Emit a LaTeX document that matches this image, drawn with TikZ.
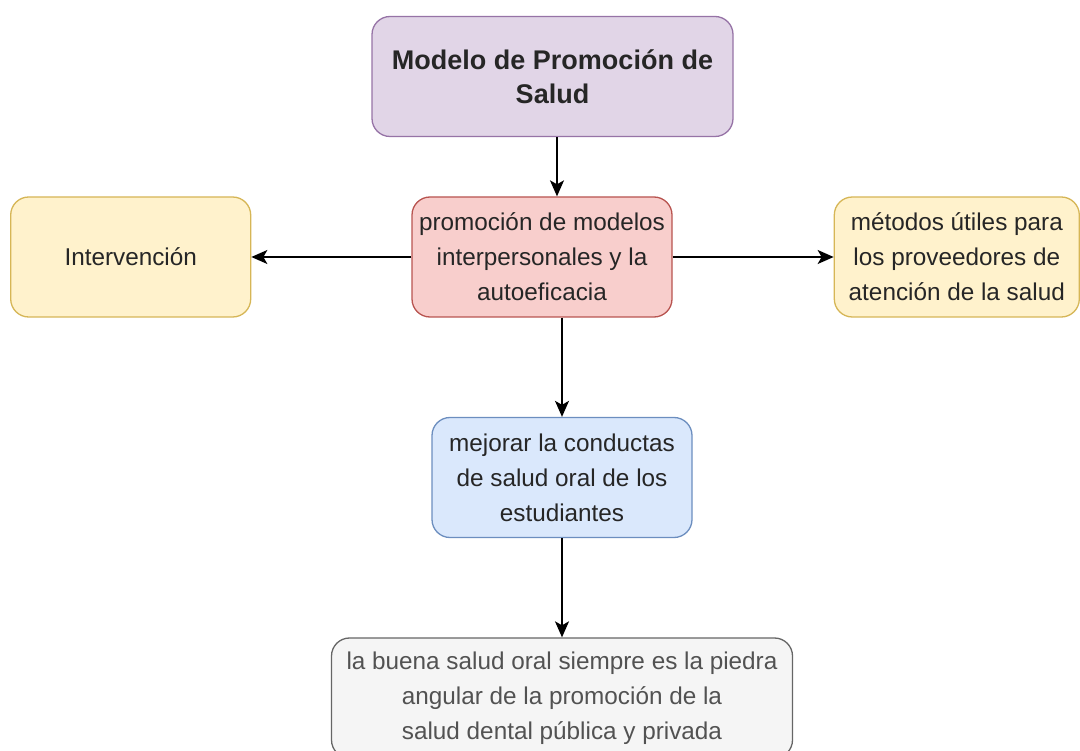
\documentclass[tikz,border=0pt]{standalone}
\usepackage{fontspec}
\setmainfont{Liberation Sans}
\usetikzlibrary{positioning,arrows.meta}
\definecolor{mypurple}{HTML}{E1D5E7}
\definecolor{mypurpled}{HTML}{9673A6}
\definecolor{myred}{HTML}{F8CECC}
\definecolor{myredd}{HTML}{B85450}
\definecolor{myyellow}{HTML}{FFF2CC}
\definecolor{myyellowd}{HTML}{D6B656}
\definecolor{myblue}{HTML}{DAE8FC}
\definecolor{myblued}{HTML}{6C8EBF}
\definecolor{mygrey}{HTML}{F5F5F5}
\definecolor{mygreyd}{HTML}{666666}
\definecolor{mytext}{HTML}{262626}

\begin{document}
\begin{tikzpicture}[x=1pt,y=-1pt,node distance=160pt,
            boxb/.style={
                draw,
                rounded corners=18pt,
                line width=1.3pt,
                align=center,
                inner sep=0pt,
                minimum height=120pt,
                text=mytext,
            font={\fontsize{24.3}{35}\selectfont}},
            purpleb/.style={boxb,fill=mypurple,draw=mypurpled,minimum width=361pt,
                font={\fontsize{27}{34}\selectfont\bfseries}},
            redb/.style={boxb,fill=myred,draw=myredd,minimum width=260pt},
            yellowb/.style={boxb,fill=myyellow,draw=myyellowd},
            blueb/.style={boxb,fill=myblue,draw=myblued,minimum width=260pt},
            greyb/.style={boxb,fill=mygrey,draw=mygreyd,text=mygreyd!80!black,minimum width=461pt},
            arr/.style={-{Stealth[length=16pt,width=14pt,inset=4pt]},line width=1.7pt},
        ]
        \useasboundingbox (0,0) rectangle (1080,751);

        \node[purpleb] (Modelo) at (552.5,76.5) {Modelo de Promoción de\\Salud};

        \node[redb] (Promo) at (542,257) {promoción de modelos\\interpersonales y la\\autoeficacia};

        \node[yellowb,minimum width=240pt,left=of Promo] (Interv) {Intervención};
        \node[yellowb,minimum width=245pt,right=161pt of Promo] (Metodos) {métodos útiles para\\los proveedores de\\atención de la salud};

        \node[blueb] (Mejorar) at (562,477.5) {mejorar la conductas\\de salud oral de los\\estudiantes};

        \node[greyb] (Piedra) at (562,698) {la buena salud oral siempre es la piedra\\angular de la promoción de la\\salud dental pública y privada};

        \draw[arr] ([xshift=4.5pt]Modelo.south) -- ([xshift=15pt]Promo.north);
        \draw[arr] (Promo.west) -- (Interv.east);
        \draw[arr] (Promo.east) -- (Metodos.west);
        \draw[arr] ([xshift=20pt]Promo.south) -- (Mejorar.north);
        \draw[arr] (Mejorar.south) -- (Piedra.north);
    \end{tikzpicture}
\end{document}
